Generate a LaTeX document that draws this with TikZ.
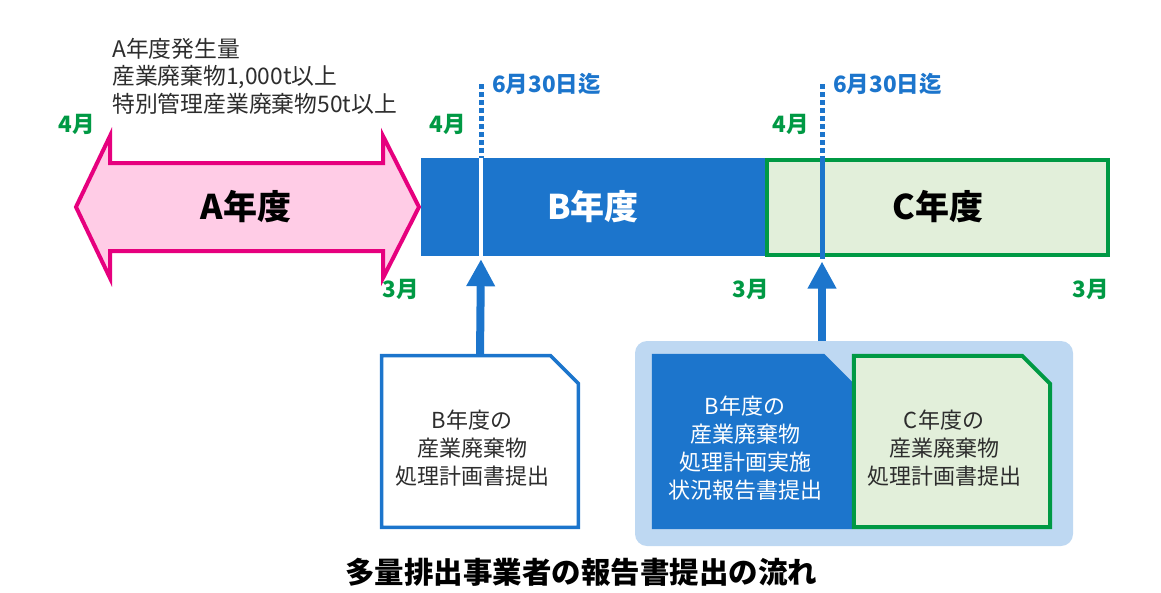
\documentclass[tikz,border=0pt]{standalone}
\usepackage{fontspec}
\setmainfont{Noto Sans CJK JP}
\usetikzlibrary{arrows.meta,positioning,calc}
\definecolor{Blue}{RGB}{28,117,204}
\definecolor{LightBlue}{RGB}{190,216,242}
\definecolor{Green}{RGB}{0,153,68}
\definecolor{PaleGreen}{RGB}{226,239,218}
\definecolor{Magenta}{RGB}{230,0,126}
\definecolor{Pink}{RGB}{255,204,230}
\definecolor{TextGray}{RGB}{45,45,45}
\newcommand{\fs}[2]{\fontsize{#1}{#2}\selectfont}
% outline of a report sheet with its top right corner cut off
\newcommand{\docpath}[1]{(#1.south west) -- (#1.north west) -- ($(#1.north east)+(-28,0)$)
  -- ($(#1.north east)+(0,28)$) -- (#1.south east) -- cycle}
\tikzset{
  yearbar/.style={rectangle,minimum width=344pt,minimum height=98pt,inner sep=0pt,
                  font=\fs{34}{36}\bfseries},
  month/.style={font=\fs{22.5}{24}\bfseries,text=Green,inner sep=0pt},
  due/.style={font=\fs{22.5}{24}\bfseries,text=Blue,anchor=west,inner sep=0pt},
  dueline/.style={Blue,line width=5pt,dash pattern=on 5pt off 3pt},
  docbox/.style={rectangle,minimum width=196.5pt,minimum height=171.5pt,inner sep=0pt},
  doctext/.style={align=center,inner sep=0pt,font=\fs{22}{28}},
  submit/.style={-{Triangle[width=27pt,length=27pt]},Blue,line width=8pt},
}

\begin{document}
\begin{tikzpicture}[x=1pt,y=-1pt]
  \useasboundingbox (0,0) rectangle (1161,592);
  % A year
  \draw[Magenta,fill=Pink,line width=4pt,line join=miter]
    (76,207) -- (110,136) -- (110,163) -- (383,163) -- (383,136) -- (419,207)
    -- (383,278) -- (383,251) -- (110,251) -- (110,278) -- cycle;
  \node[font=\fs{34}{36}\bfseries] (yearA) at (246,207) {A年度};
  \node[anchor=north west,align=left,inner sep=0pt,font=\fs{22.8}{27.5},text=TextGray]
    (amount) at (112,38) {A年度発生量\\産業廃棄物1,000t以上\\特別管理産業廃棄物50t以上};

  % B and C years
  \node[yearbar,fill=Blue,text=white] (yearB) at (593,207) {B年度};
  \node[yearbar,draw=Green,fill=PaleGreen,line width=4pt,minimum width=341pt,
        minimum height=95pt,right=0pt of yearB] (yearC) {C年度};

  \coordinate (dueB) at (481,84);
  \coordinate (dueC) at (822,84);
  \draw[dueline] (dueB) -- (dueB |- yearB.north);
  \draw[white,line width=4pt] (dueB |- yearB.north) -- (dueB |- yearB.south);
  \draw[dueline] (dueC) -- ($(dueC |- yearC.north)+(0,-2)$);
  \draw[Blue,line width=5pt] ($(dueC |- yearC.north)+(0,-2)$) -- ($(dueC |- yearC.south)+(0,2)$);
  \node[due] (dueBtext) at ($(dueB)+(11,0)$) {6月30日迄};
  \node[due] (dueCtext) at ($(dueC)+(11,0)$) {6月30日迄};

  % months
  \node[month] (aprA) at (77,124) {4月};
  \node[month] (marA) at (401,289) {3月};
  \node[month] (aprB) at (448,124) {4月};
  \node[month] (marB) at (751,289) {3月};
  \node[month] (aprC) at (791,124) {4月};
  \node[month] (marC) at (1091,289) {3月};

  % reports
  \node[docbox] (planB) at (480,441.5) {};
  \filldraw[draw=Blue,fill=white,line width=3.5pt] \docpath{planB};
  \node[doctext,text=TextGray] (planBtext) at ($(planB)+(-8,7)$) {B年度の\\産業廃棄物\\処理計画書提出};

  \node[fill=LightBlue,rounded corners=12pt,minimum width=438pt,minimum height=205pt]
    (flowbg) at (854,443.5) {};

  \node[docbox,minimum width=200pt,minimum height=175pt] (reportB) at (752,441.5) {};
  \fill[Blue] \docpath{reportB};
  \node[doctext,text=white] (reportBtext) at ($(reportB)+(-7,7)$)
    {B年度の\\産業廃棄物\\処理計画実施\\状況報告書提出};

  \node[docbox,minimum width=196pt,minimum height=171pt] (planC) at (952,441.5) {};
  \filldraw[draw=Green,fill=PaleGreen,line width=4pt] \docpath{planC};
  \node[doctext,text=TextGray] (planCtext) at ($(planC)+(-8,7)$) {C年度の\\産業廃棄物\\処理計画書提出};

  \draw[submit,shorten >=3pt] (planB.north) -- (dueB |- yearB.south);
  \draw[submit,shorten >=3pt] (dueC |- flowbg.north) -- ($(dueC |- yearC.south)+(0,2)$);

  \node[font=\fs{29.5}{32}\bfseries] (title) at (581,572) {多量排出事業者の報告書提出の流れ};
\end{tikzpicture}
\end{document}
